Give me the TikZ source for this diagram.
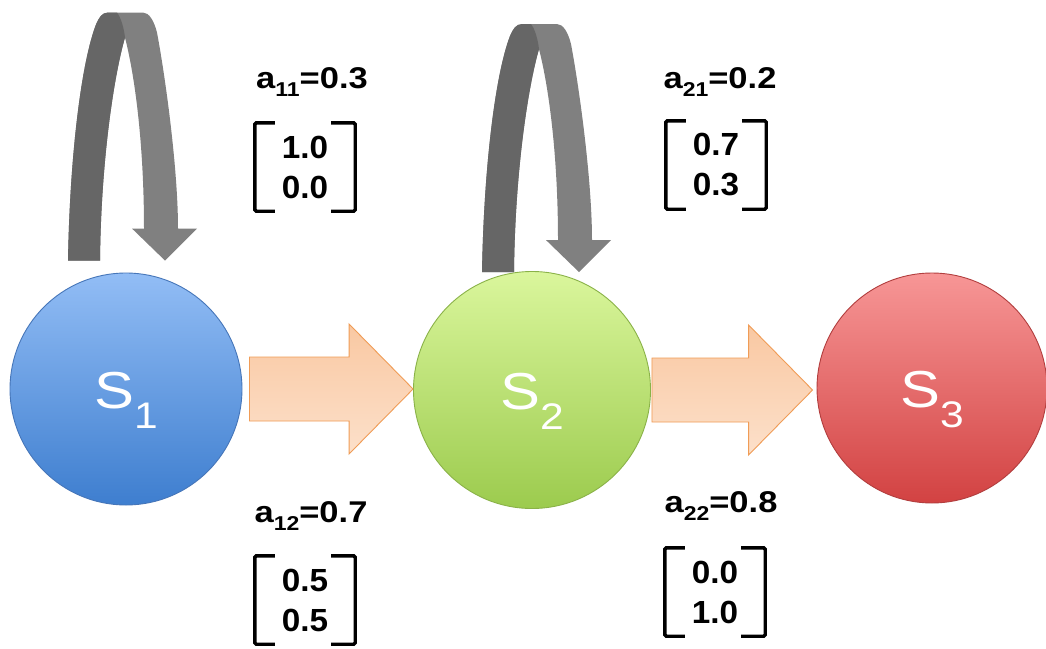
\documentclass[tikz,border=0pt]{standalone}
\usepackage{fontspec}
\usepackage{graphicx}
\setmainfont{Liberation Sans}
\newfontfamily\widefont{Liberation Sans}[FakeStretch=1.15]
\newfontfamily\numfont{Liberation Sans}[FakeStretch=1.04]
\usetikzlibrary{calc}

\definecolor{sAtop}{RGB}{146,189,245}
\definecolor{sAbot}{RGB}{62,126,207}
\definecolor{sAedge}{RGB}{70,118,185}
\definecolor{sBtop}{RGB}{218,246,156}
\definecolor{sBbot}{RGB}{156,203,78}
\definecolor{sBedge}{RGB}{138,178,72}
\definecolor{sCtop}{RGB}{247,150,150}
\definecolor{sCbot}{RGB}{210,66,66}
\definecolor{sCedge}{RGB}{178,62,62}
\definecolor{flowtop}{RGB}{249,200,162}
\definecolor{flowbot}{RGB}{252,224,202}
\definecolor{flowedge}{RGB}{240,156,86}
\definecolor{loopdark}{RGB}{102,102,102}
\definecolor{looplight}{RGB}{128,128,128}

\newcommand\stsub[1]{\raisebox{-20pt}{\fontsize{37}{37}\selectfont #1}}
\newcommand\lsub[1]{\raisebox{-8pt}{\fontsize{20}{20}\selectfont #1}}

% self transition: twisted ribbon with an arrow head, origin at the
% outer bottom corner of its rising leg
\newcommand\selfloop[2]{%
  \begin{scope}[shift={($(#1.north)+(#2)$)}]
    \fill[looplight]
      (0,0) .. controls (2,-110) and (14,-200) .. (28,-236)
            .. controls (31,-243) and (34,-248) .. (40,-248)
      -- (75,-248) .. controls (81,-248) and (86,-240) .. (89,-228)
            .. controls (98,-180) and (110,-90) .. (110,-32)
      -- (129,-32) -- (97,0) -- (64,-32) -- (76,-32)
            .. controls (76,-110) and (68,-180) .. (57,-223)
            .. controls (46,-185) and (33,-100) .. (32,0)
      -- cycle;
    \fill[loopdark]
      (0,0) .. controls (2,-110) and (14,-200) .. (28,-236)
            .. controls (31,-243) and (34,-248) .. (40,-248)
      -- (49,-248) .. controls (53,-243) and (56,-232) .. (57,-223)
            .. controls (46,-185) and (33,-100) .. (32,0)
      -- cycle;
  \end{scope}}

% broad forward arrow from coordinate #1 to tip coordinate #2
\newcommand\flowarrow[2]{%
  \draw[flow] let \p1=(#1), \p2=(#2) in
    (\x1,\y1-32pt) -- (\x2-64pt,\y1-32pt) -- (\x2-64pt,\y1-65pt)
    -- (\x2,\y1) -- (\x2-64pt,\y1+65pt) -- (\x2-64pt,\y1+32pt)
    -- (\x1,\y1+32pt) -- cycle;}

\tikzset{
  stnode/.style={circle, minimum size=#1, inner sep=0pt, line width=0.9pt},
  sttext/.style={text=white, inner sep=0pt,
    font=\widefont\fontsize{52}{52}\selectfont},
  prob/.style={inner sep=0pt, font=\widefont\bfseries\fontsize{30}{30}\selectfont},
  vec/.style={minimum width=100pt, minimum height=88pt, inner sep=0pt,
    align=center, font=\numfont\bfseries\fontsize{32}{40}\selectfont},
  bracket/.style={line width=3.4pt, rounded corners=1.5pt},
  flow/.style={top color=flowtop, bottom color=flowbot, draw=flowedge,
    line width=0.9pt, line join=miter},
}

\begin{document}
\begin{tikzpicture}[x=1pt,y=-1pt]
\useasboundingbox (0,0) rectangle (1046,648);
\fill[white] (0,0) rectangle (1046,648);

% states
\node[stnode=232pt, top color=sAtop, bottom color=sAbot, draw=sAedge] (s1) at (126,389) {};
\node[stnode=237pt, top color=sBtop, bottom color=sBbot, draw=sBedge] (s2) at (532,390) {};
\node[stnode=230pt, top color=sCtop, bottom color=sCbot, draw=sCedge] (s3) at (932,388) {};

\node[sttext, anchor=base] (t1) at ($(s1.center)+(0,19)$) {S\stsub{1}};
\node[sttext, anchor=base] (t2) at ($(s2.center)+(0,19)$) {S\stsub{2}};
\node[sttext, anchor=base] (t3) at ($(s3.center)+(0,19)$) {S\stsub{3}};

% forward transitions
\path (s1.east) ++(7,0) coordinate (f1s);
\path (s2.west) ++(0,-2) coordinate (f1e);
\path (s2.east) ++(1,0) coordinate (f2s);
\path (s3.west) ++(-4,0) coordinate (f2e);
\flowarrow{f1s}{f1e}
\flowarrow{f2s}{f2e}

% self transitions
\selfloop{s1}{-58,-12}
\selfloop{s2}{-50,1}

% transition probabilities
\node[prob, anchor=base] (p11) at (312,88) {a\lsub{11}=0.3};
\node[prob, anchor=base] (p21) at (720,88) {a\lsub{21}=0.2};
\node[prob, anchor=base] (p12) at (311,522) {a\lsub{12}=0.7};
\node[prob, anchor=base] (p22) at (721,512) {a\lsub{22}=0.8};

% output probability vectors
\node[vec] (m1) at (305,167) {1.0\\0.0};
\node[vec] (m2) at (716,165) {0.7\\0.3};
\node[vec] (m3) at (305,600) {0.5\\0.5};
\node[vec] (m4) at (715,592) {0.0\\1.0};

\foreach \m in {m1,m2,m3,m4}{
  \draw[bracket] ($(\m.north west)+(20,0)$) -- (\m.north west)
    -- (\m.south west) -- ($(\m.south west)+(20,0)$);
  \draw[bracket] ($(\m.north east)+(-24,0)$) -- (\m.north east)
    -- (\m.south east) -- ($(\m.south east)+(-24,0)$);
}
\end{tikzpicture}
\end{document}
